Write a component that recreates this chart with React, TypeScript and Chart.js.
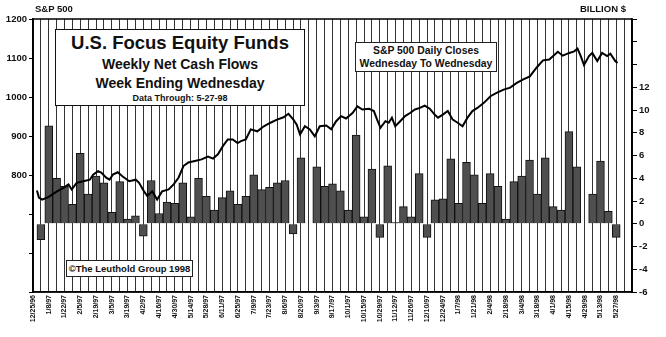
import React, { useEffect, useRef } from 'react';
import { Chart, registerables } from 'chart.js';

Chart.register(...registerables);

// Week-ending Wednesdays (category labels)
const weeks: string[] = [
  '12/25/96', '1/1/97', '1/8/97', '1/15/97', '1/22/97', '1/29/97', '2/5/97', '2/12/97', '2/19/97', '2/26/97',
  '3/5/97', '3/12/97', '3/19/97', '3/26/97', '4/2/97', '4/9/97', '4/16/97', '4/23/97', '4/30/97', '5/7/97',
  '5/14/97', '5/21/97', '5/28/97', '6/4/97', '6/11/97', '6/18/97', '6/25/97', '7/2/97', '7/9/97', '7/16/97',
  '7/23/97', '7/30/97', '8/6/97', '8/13/97', '8/20/97', '8/27/97', '9/3/97', '9/10/97', '9/17/97', '9/24/97',
  '10/1/97', '10/8/97', '10/15/97', '10/22/97', '10/29/97', '11/5/97', '11/12/97', '11/19/97', '11/26/97', '12/3/97',
  '12/10/97', '12/17/97', '12/24/97', '12/31/97', '1/7/98', '1/14/98', '1/21/98', '1/28/98', '2/4/98', '2/11/98',
  '2/18/98', '2/25/98', '3/4/98', '3/11/98', '3/18/98', '3/25/98', '4/1/98', '4/8/98', '4/15/98', '4/22/98',
  '4/29/98', '5/6/98', '5/13/98', '5/20/98', '5/27/98',
];

// Weekly net cash flows, billion $ (one per week above)
const flows: (number | null)[] = [
  null, -1.4, 8.6, 4.0, 3.3, 1.7, 6.2, 2.6, 4.2, 3.6,
  1.0, 3.7, 0.4, 0.7, -1.1, 3.8, 0.9, 1.9, 1.8, 3.6,
  0.6, 4.0, 2.4, 1.2, 2.3, 2.9, 1.7, 2.4, 4.3, 3.0,
  3.2, 3.6, 3.8, -0.9, 5.8, 0, 5.0, 3.3, 3.5, 2.9,
  1.2, 7.8, 0.6, 4.8, -1.2, 5.1, 0.1, 1.5, 0.6, 4.4,
  -1.2, 2.1, 2.2, 5.7, 1.8, 5.4, 4.3, 1.8, 4.4, 3.3,
  0.4, 3.7, 4.2, 5.6, 2.6, 5.8, 1.5, 1.2, 8.1, 5.0,
  0, 2.6, 5.5, 1.1, -1.2,
];

// S&P 500 daily closes: position in weeks (0 = 12/25/96) and close
const spWeek: number[] = [
  0.5, 0.75, 1.16, 2.0, 3.04, 3.88, 4.5, 4.91, 5.54, 6.38,
  7.21, 7.63, 8.25, 8.66, 9.29, 9.71, 10.13, 10.75, 11.38, 12.21,
  13.04, 13.46, 14.09, 14.5, 15.13, 15.75, 16.38, 17.21, 17.84, 18.46,
  19.09, 19.71, 20.54, 21.38, 22.21, 22.84, 23.46, 24.09, 24.71, 25.34,
  25.96, 26.38, 27.0, 27.63, 28.46, 29.29, 30.13, 30.96, 31.79, 32.41,
  33.04, 33.46, 33.88, 34.5, 35.13, 35.75, 36.38, 37.21, 37.84, 38.46,
  39.09, 39.71, 40.54, 41.16, 41.79, 42.63, 43.25, 43.66, 44.09, 44.71,
  45.13, 45.54, 45.96, 46.59, 47.21, 47.84, 48.46, 49.09, 49.71, 50.34,
  50.96, 51.38, 52.0, 52.63, 53.25, 53.88, 54.5, 55.13, 55.75, 56.38,
  57.21, 58.04, 58.88, 59.71, 60.54, 61.38, 62.21, 63.04, 63.88, 64.71,
  65.5, 66.59, 67.21, 68.04, 68.66, 69.09, 69.5, 69.91, 70.54, 70.96,
  71.59, 72.21, 72.84, 73.25, 73.88, 74.16,
];
const spClose: number[] = [
  760, 742, 737, 744, 758, 767, 776, 763, 780, 784,
  788, 801, 810, 806, 793, 788, 801, 807, 796, 784,
  788, 780, 758, 746, 758, 737, 758, 763, 776, 793,
  823, 832, 836, 840, 847, 842, 853, 874, 891, 891,
  882, 887, 891, 917, 912, 925, 934, 942, 948, 957,
  942, 929, 904, 925, 917, 899, 925, 927, 917, 938,
  951, 945, 959, 976, 968, 970, 964, 942, 921, 938,
  934, 947, 925, 938, 951, 959, 968, 972, 978, 970,
  955, 947, 955, 964, 942, 934, 925, 947, 964, 972,
  985, 1002, 1011, 1019, 1024, 1036, 1045, 1053, 1075, 1094,
  1096, 1116, 1106, 1113, 1117, 1124, 1105, 1082, 1105, 1113,
  1092, 1113, 1105, 1111, 1092, 1087,
];

const FONT = '"Liberation Sans", Arial, Helvetica, sans-serif';

const framePlugin = {
  id: 'frame',
  afterDraw(c: any) {
    const { ctx, chartArea: a } = c;
    ctx.save();
    ctx.strokeStyle = '#000';
    ctx.lineWidth = 1.5;
    ctx.strokeRect(a.left, a.top, a.right - a.left, a.bottom - a.top);
    ctx.restore();
  },
};

function Line({ cy, size, children }: { cy: number; size: number; children: React.ReactNode }) {
  const lh = Math.round(size * 1.2);
  return (
    <div
      style={{
        position: 'absolute',
        left: 0,
        right: 0,
        top: cy - lh / 2,
        height: lh,
        lineHeight: lh + 'px',
        fontSize: size,
        fontWeight: 'bold',
        textAlign: 'center',
        whiteSpace: 'nowrap',
      }}
    >
      {children}
    </div>
  );
}

export default function App() {
  const ref = useRef<HTMLCanvasElement>(null);

  useEffect(() => {
    document.body.style.margin = '0';
    const tickFont = { family: FONT, size: 9.5, weight: 'bold' as const };
    const chart = new Chart(ref.current as HTMLCanvasElement, {
      type: 'bar',
      data: {
        datasets: [
          {
            type: 'line',
            data: spWeek.map((w, i) => ({ x: w, y: spClose[i] })),
            yAxisID: 'y',
            xAxisID: 'x',
            borderColor: '#000',
            borderWidth: 2,
            pointRadius: 0,
            tension: 0,
            order: 0,
          } as any,
          {
            type: 'bar',
            data: weeks.map((_, i) => ({ x: i, y: flows[i] })),
            yAxisID: 'y1',
            xAxisID: 'x',
            backgroundColor: '#4f4f4f',
            borderColor: '#111',
            borderWidth: 1,
            barPercentage: 1,
            categoryPercentage: 1,
            order: 1,
          } as any,
        ],
      },
      options: {
        responsive: false,
        animation: false,
        devicePixelRatio: 1,
        layout: { padding: { top: 19, left: 0, right: 0, bottom: 0 } },
        plugins: { legend: { display: false }, tooltip: { enabled: false } },
        scales: {
          x: {
            type: 'linear',
            position: 'bottom',
            min: 0.5,
            max: weeks.length + 0.5,
            afterBuildTicks: (s: any) => {
              s.ticks = Array.from({ length: weeks.length + 1 }, (_, i) => ({ value: i + 0.5 }));
            },
            afterFit: (s: any) => {
              s.height = 45;
            },
            grid: { color: '#333', lineWidth: 1, drawTicks: false },
            border: { color: '#000', width: 1.5 },
            ticks: {
              autoSkip: false,
              minRotation: 90,
              maxRotation: 90,
              labelOffset: -4,
              padding: 3,
              color: '#111',
              font: { family: FONT, size: 7, weight: 'bold' },
              callback: (v: any) => {
                const k = Math.round(Number(v) - 0.5);
                return k % 2 === 0 && k < weeks.length ? weeks[k] : '';
              },
            },
          } as any,
          y: {
            type: 'linear',
            position: 'left',
            min: 500,
            max: 1200,
            afterBuildTicks: (s: any) => {
              s.ticks = Array.from({ length: 8 }, (_, i) => ({ value: 500 + i * 100 }));
            },
            afterFit: (s: any) => {
              s.width = 33;
            },
            grid: { drawOnChartArea: false, drawTicks: true, tickLength: 4, color: '#000' },
            border: { color: '#000', width: 1.5 },
            ticks: {
              padding: 2,
              color: '#111',
              font: tickFont,
              callback: (v: any) => (Number(v) >= 800 ? String(v) : ''),
            },
          } as any,
          y1: {
            type: 'linear',
            position: 'right',
            min: -6,
            max: 18,
            afterBuildTicks: (s: any) => {
              s.ticks = Array.from({ length: 13 }, (_, i) => ({ value: -6 + i * 2 }));
            },
            afterFit: (s: any) => {
              s.width = 34;
            },
            grid: { drawOnChartArea: false, drawTicks: true, tickLength: 5, color: '#000' },
            border: { color: '#000', width: 1.5 },
            ticks: {
              padding: 2,
              color: '#111',
              font: tickFont,
              callback: (v: any) => (Number(v) <= 12 ? String(v) : ''),
            },
          } as any,
        },
      },
      plugins: [framePlugin],
    });
    return () => chart.destroy();
  }, []);

  return (
    <div style={{ position: 'relative', width: 666, height: 337, background: '#fff', fontFamily: FONT, color: '#111' }}>
      <canvas ref={ref} width={666} height={337} style={{ position: 'absolute', left: 0, top: 0 }} />
      <div style={{ position: 'absolute', left: 35, top: 3, fontSize: 9.5, fontWeight: 'bold', lineHeight: '12px' }}>S&amp;P 500</div>
      <div style={{ position: 'absolute', left: 580, top: 3, fontSize: 9.5, fontWeight: 'bold', lineHeight: '12px', whiteSpace: 'nowrap' }}>BILLION $</div>
      <div
        style={{
          position: 'absolute',
          left: 55,
          top: 29,
          width: 250,
          height: 77,
          boxSizing: 'border-box',
          border: '1.5px solid #111',
          background: '#fff',
        }}
      >
        <Line cy={13} size={18.5}>U.S. Focus Equity Funds</Line>
        <Line cy={34} size={14}>Weekly Net Cash Flows</Line>
        <Line cy={53} size={14}>Week Ending Wednesday</Line>
        <Line cy={68} size={9}>Data Through: 5-27-98</Line>
      </div>
      <div
        style={{
          position: 'absolute',
          left: 355,
          top: 42,
          width: 142,
          height: 30,
          boxSizing: 'border-box',
          border: '1px solid #222',
          background: '#fff',
        }}
      >
        <Line cy={8} size={10.4}>S&amp;P 500 Daily Closes</Line>
        <Line cy={21} size={10.4}>Wednesday To Wednesday</Line>
      </div>
      <div
        style={{
          position: 'absolute',
          left: 66,
          top: 260,
          width: 127,
          height: 17,
          boxSizing: 'border-box',
          border: '1px solid #222',
          background: '#fff',
        }}
      >
        <Line cy={7.5} size={9.5}>©The Leuthold Group 1998</Line>
      </div>
    </div>
  );
}
